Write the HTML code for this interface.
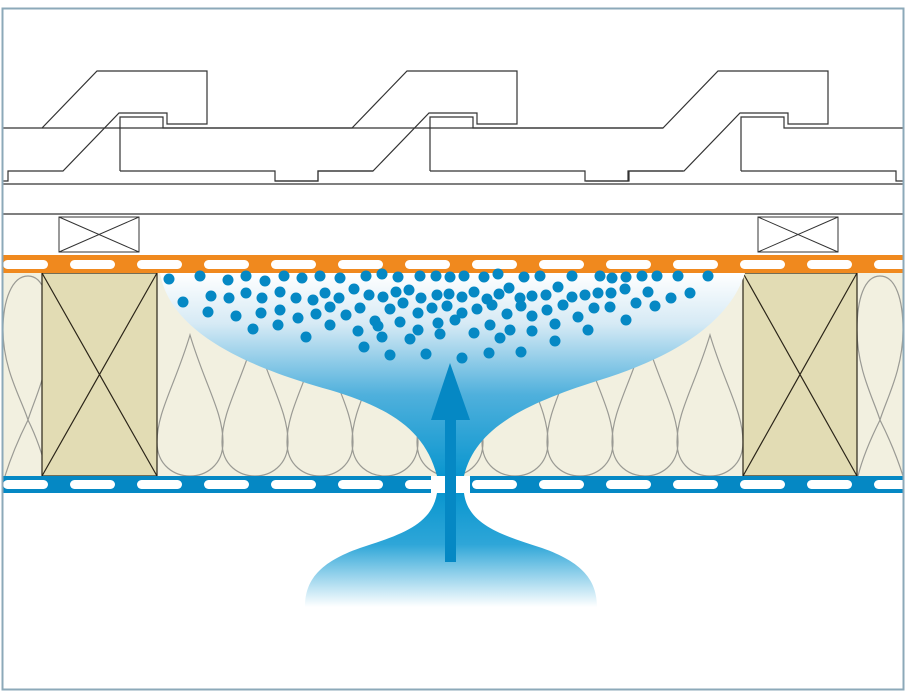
<!DOCTYPE html>
<html><head><meta charset="utf-8"><style>html,body{margin:0;padding:0;background:#fff}svg{display:block}</style></head>
<body>
<svg width="907" height="692" viewBox="0 0 907 692" xmlns="http://www.w3.org/2000/svg">
<defs>
<linearGradient id="g1" x1="0" y1="0" x2="0" y2="1" gradientUnits="objectBoundingBox">
<stop offset="0" stop-color="#ffffff"/><stop offset="0.25" stop-color="#d6eaf5"/><stop offset="0.6" stop-color="#4fb0dc"/><stop offset="1" stop-color="#0a96cf"/></linearGradient>
<linearGradient id="g2" x1="0" y1="0" x2="0" y2="1">
<stop offset="0" stop-color="#0a96cf"/><stop offset="0.45" stop-color="#2ea6d8"/><stop offset="1" stop-color="#ffffff"/></linearGradient>
<pattern id="dashA" x="3" y="260" width="67" height="9" patternUnits="userSpaceOnUse"><rect x="0" y="0" width="45" height="9" rx="4.5" fill="#fff"/></pattern>
<pattern id="dashB" x="3" y="480" width="67" height="9" patternUnits="userSpaceOnUse"><rect x="0" y="0" width="45" height="9" rx="4.5" fill="#fff"/></pattern>
</defs>
<rect x="0" y="0" width="907" height="692" fill="#fff"/>
<g fill="none" stroke="#333" stroke-width="1.2">
<g id="t">
<path d="M-268,128 L42,128 L97,71 L207,71 L207,124 L167,124 L167,113 L119,113 L63,171 L8,171 L8,181 L-35,181"/>
<path d="M120,171 L120,117 L163,117 L163,128 L353,128 M120,171 L275,171 L275,181 L318,181 L318,171 L373,171"/>
</g>
<use href="#t" x="310"/>
<use href="#t" x="621"/>
<line x1="3" y1="184" x2="903" y2="184"/>
<line x1="3" y1="214" x2="903" y2="214"/>
<rect x="59" y="217" width="80" height="35" stroke-width="1"/>
<path d="M59,217 L139,252 M139,217 L59,252" stroke-width="1"/>
<rect x="758" y="217" width="80" height="35" stroke-width="1"/>
<path d="M758,217 L838,252 M838,217 L758,252" stroke-width="1"/>
</g>
<rect x="0" y="60" width="3" height="200" fill="#fff"/>
<rect x="903" y="60" width="4" height="200" fill="#fff"/>
<rect x="3" y="273" width="900" height="203" fill="#f2f0e0"/>
<g fill="none" stroke="#9a9a94" stroke-width="1.2">
<g id="d"><path d="M190,335 C175,385 157,412 157,442 C157,466 175,476 190,476 C205,476 223,466 223,442 C223,412 205,385 190,335 Z"/></g>
<use href="#d" x="65"/><use href="#d" x="130"/><use href="#d" x="195"/><use href="#d" x="260"/><use href="#d" x="325"/><use href="#d" x="390"/><use href="#d" x="455"/><use href="#d" x="520"/>
<path d="M28,276 C12,276 3,300 3,330 C3,370 22,400 28,420 C34,400 50,370 50,330 C50,300 44,276 28,276 Z"/>
<path d="M28,420 C18,440 10,460 5,476 M28,420 C38,440 44,460 48,476"/>
<path d="M880,276 C864,276 857,300 857,330 C857,370 874,400 880,420 C886,400 903,370 903,330 C903,300 896,276 880,276 Z"/>
<path d="M880,420 C870,440 862,460 858,476 M880,420 C890,440 898,460 903,476"/>
</g>
<g fill="#e2dcb4" stroke="#2a2418" stroke-width="1.2">
<rect x="42" y="273" width="115" height="203"/>
<path d="M42,273 L157,476 M157,273 L42,476" fill="none"/>
<rect x="743" y="273" width="114" height="203"/>
<path d="M743,273 L857,476 M857,273 L743,476" fill="none"/>
</g>
<path d="M160,273 C170,330 240,365 330,390 C390,408 425,430 437,476 L464,476 C475,430 520,405 600,380 C680,355 730,320 745,273 Z" fill="url(#g1)"/>
<path d="M437,493 C432,525 400,535 360,548 C320,562 305,580 305,607 L597,607 C597,580 582,562 542,548 C502,535 468,525 464,493 Z" fill="url(#g2)"/>
<rect x="3" y="255" width="900" height="18" fill="#f0891e"/>
<rect x="3" y="260" width="900" height="9" fill="url(#dashA)"/>
<rect x="3" y="476" width="900" height="17" fill="#0588c4"/>
<rect x="3" y="480" width="900" height="9" fill="url(#dashB)"/>
<rect x="431" y="476" width="39" height="17" fill="#fff"/>
<rect x="445" y="418" width="11" height="144" fill="#0588c4"/>
<polygon points="450,363 431,420 470,420" fill="#0588c4"/>
<g fill="#0588c4">
<circle cx="169" cy="279" r="5.5"/><circle cx="200" cy="276" r="5.5"/><circle cx="228" cy="280" r="5.5"/><circle cx="246" cy="276" r="5.5"/><circle cx="265" cy="281" r="5.5"/><circle cx="284" cy="276" r="5.5"/><circle cx="302" cy="278" r="5.5"/><circle cx="320" cy="276" r="5.5"/><circle cx="340" cy="278" r="5.5"/><circle cx="366" cy="276" r="5.5"/><circle cx="382" cy="274" r="5.5"/><circle cx="398" cy="277" r="5.5"/><circle cx="420" cy="276" r="5.5"/><circle cx="436" cy="276" r="5.5"/><circle cx="450" cy="277" r="5.5"/><circle cx="464" cy="276" r="5.5"/><circle cx="484" cy="277" r="5.5"/><circle cx="498" cy="274" r="5.5"/><circle cx="524" cy="277" r="5.5"/><circle cx="540" cy="276" r="5.5"/><circle cx="572" cy="276" r="5.5"/><circle cx="600" cy="276" r="5.5"/><circle cx="612" cy="278" r="5.5"/><circle cx="626" cy="277" r="5.5"/><circle cx="642" cy="276" r="5.5"/><circle cx="657" cy="276" r="5.5"/><circle cx="678" cy="276" r="5.5"/><circle cx="708" cy="276" r="5.5"/>
<circle cx="183" cy="302" r="5.5"/><circle cx="211" cy="296" r="5.5"/><circle cx="229" cy="298" r="5.5"/><circle cx="246" cy="293" r="5.5"/><circle cx="262" cy="298" r="5.5"/><circle cx="280" cy="292" r="5.5"/><circle cx="296" cy="298" r="5.5"/><circle cx="313" cy="300" r="5.5"/><circle cx="325" cy="293" r="5.5"/><circle cx="339" cy="298" r="5.5"/><circle cx="354" cy="289" r="5.5"/><circle cx="369" cy="295" r="5.5"/><circle cx="383" cy="297" r="5.5"/><circle cx="396" cy="292" r="5.5"/><circle cx="409" cy="290" r="5.5"/><circle cx="421" cy="298" r="5.5"/><circle cx="437" cy="295" r="5.5"/><circle cx="449" cy="294" r="5.5"/><circle cx="462" cy="297" r="5.5"/><circle cx="474" cy="292" r="5.5"/><circle cx="487" cy="299" r="5.5"/><circle cx="499" cy="294" r="5.5"/><circle cx="509" cy="288" r="5.5"/><circle cx="520" cy="298" r="5.5"/><circle cx="532" cy="296" r="5.5"/><circle cx="546" cy="295" r="5.5"/><circle cx="558" cy="287" r="5.5"/><circle cx="572" cy="297" r="5.5"/><circle cx="585" cy="295" r="5.5"/><circle cx="598" cy="293" r="5.5"/><circle cx="611" cy="293" r="5.5"/><circle cx="625" cy="289" r="5.5"/><circle cx="648" cy="292" r="5.5"/><circle cx="671" cy="298" r="5.5"/><circle cx="690" cy="293" r="5.5"/>
<circle cx="208" cy="312" r="5.5"/><circle cx="236" cy="316" r="5.5"/><circle cx="261" cy="313" r="5.5"/><circle cx="280" cy="310" r="5.5"/><circle cx="298" cy="318" r="5.5"/><circle cx="316" cy="314" r="5.5"/><circle cx="330" cy="307" r="5.5"/><circle cx="346" cy="315" r="5.5"/><circle cx="360" cy="308" r="5.5"/><circle cx="375" cy="321" r="5.5"/><circle cx="390" cy="309" r="5.5"/><circle cx="403" cy="303" r="5.5"/><circle cx="418" cy="313" r="5.5"/><circle cx="432" cy="308" r="5.5"/><circle cx="447" cy="306" r="5.5"/><circle cx="462" cy="313" r="5.5"/><circle cx="477" cy="309" r="5.5"/><circle cx="492" cy="305" r="5.5"/><circle cx="507" cy="314" r="5.5"/><circle cx="521" cy="306" r="5.5"/><circle cx="532" cy="316" r="5.5"/><circle cx="547" cy="310" r="5.5"/><circle cx="563" cy="305" r="5.5"/><circle cx="578" cy="317" r="5.5"/><circle cx="594" cy="308" r="5.5"/><circle cx="610" cy="307" r="5.5"/><circle cx="626" cy="320" r="5.5"/><circle cx="655" cy="306" r="5.5"/><circle cx="636" cy="303" r="5.5"/>
<circle cx="253" cy="329" r="5.5"/><circle cx="278" cy="325" r="5.5"/><circle cx="306" cy="337" r="5.5"/><circle cx="330" cy="325" r="5.5"/><circle cx="358" cy="331" r="5.5"/><circle cx="378" cy="326" r="5.5"/><circle cx="400" cy="322" r="5.5"/><circle cx="418" cy="330" r="5.5"/><circle cx="438" cy="323" r="5.5"/><circle cx="455" cy="320" r="5.5"/><circle cx="474" cy="333" r="5.5"/><circle cx="490" cy="325" r="5.5"/><circle cx="510" cy="330" r="5.5"/><circle cx="532" cy="331" r="5.5"/><circle cx="555" cy="324" r="5.5"/><circle cx="588" cy="330" r="5.5"/>
<circle cx="364" cy="347" r="5.5"/><circle cx="382" cy="337" r="5.5"/><circle cx="410" cy="339" r="5.5"/><circle cx="440" cy="334" r="5.5"/><circle cx="500" cy="338" r="5.5"/><circle cx="555" cy="341" r="5.5"/>
<circle cx="390" cy="355" r="5.5"/><circle cx="426" cy="354" r="5.5"/><circle cx="462" cy="358" r="5.5"/><circle cx="489" cy="353" r="5.5"/><circle cx="521" cy="352" r="5.5"/>
</g>
<rect x="2.5" y="8.5" width="901" height="681" fill="none" stroke="#8ca9b9" stroke-width="2"/>
</svg>
</body></html>
